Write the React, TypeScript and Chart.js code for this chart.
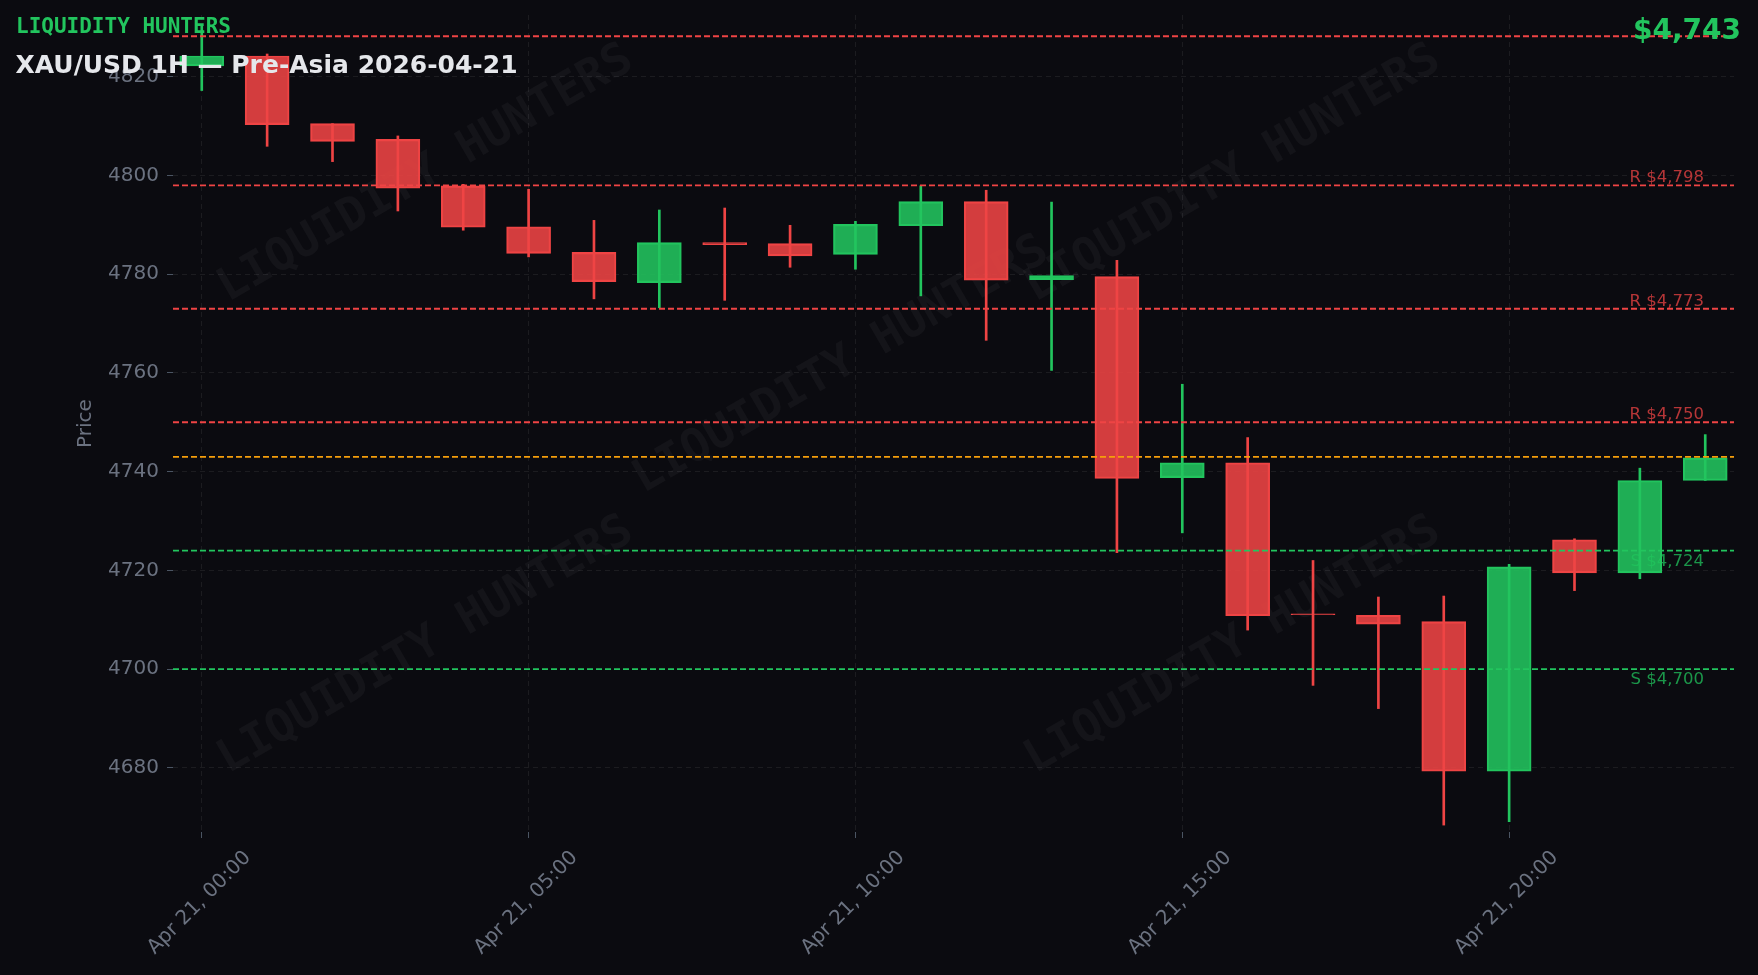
import React, { useEffect, useRef } from "react";
import { Chart, registerables } from "chart.js";

Chart.register(...registerables);

// ---- data ----
const HOURS = [0, 1, 2, 3, 4, 5, 6, 7, 8, 9, 10, 11, 12, 13, 14, 15, 16, 17, 18, 19, 20, 21, 22, 23];
const OPEN = [4822.2, 4824.2, 4810.5, 4807.3, 4797.9, 4789.6, 4784.4, 4778.3, 4786.4, 4786.2, 4784.0, 4789.8, 4794.7, 4778.9, 4779.5, 4738.8, 4741.8, 4711.2, 4710.9, 4709.6, 4679.3, 4726.2, 4719.5, 4738.2];
const HIGH = [4830.5, 4824.6, 4810.5, 4808.0, 4798.2, 4797.2, 4790.9, 4793.0, 4793.4, 4789.9, 4790.7, 4797.9, 4797.0, 4794.6, 4782.8, 4757.7, 4746.9, 4722.0, 4714.6, 4714.8, 4721.2, 4726.4, 4740.7, 4747.5];
const LOW = [4817.2, 4805.9, 4802.8, 4792.8, 4788.9, 4783.5, 4775.0, 4773.2, 4774.7, 4781.4, 4781.0, 4775.6, 4766.6, 4760.5, 4723.6, 4727.6, 4707.9, 4696.7, 4692.0, 4668.4, 4669.1, 4715.9, 4718.3, 4738.2];
const CLOSE = [4824.2, 4810.3, 4806.9, 4797.4, 4789.5, 4784.2, 4778.5, 4786.4, 4786.0, 4783.7, 4790.1, 4794.7, 4778.8, 4779.7, 4738.6, 4741.8, 4710.8, 4711.0, 4709.1, 4679.3, 4720.7, 4719.5, 4738.2, 4742.8];

const RESISTANCE = [4798, 4773, 4750];
const SUPPORT = [4724, 4700];
const UPPER_LEVEL = 4828.2;
const CURRENT_PRICE = 4743;

const X_MIN = -0.44;
const X_MAX = 23.44;
const Y_MIN = 4667.0;
const Y_MAX = 4832.5;
const X_TICK_STEP = 5;
const Y_TICK_STEP = 20;
const DAY_LABEL = "Apr 21";

const BRAND = "LIQUIDITY HUNTERS";
const TITLE = "XAU/USD 1H — Pre-Asia 2026-04-21";
const PRICE_TEXT = "$4,743";

// ---- styles ----
const BG = "#0b0b10";
const RED = "#ef4444";
const GREEN = "#22c55e";
const RED_FILL = "rgba(239,68,68,0.88)";
const GREEN_FILL = "rgba(34,197,94,0.88)";
const ORANGE = "#f59e0b";
const TICK_COLOR = "#6b7280";
const GRID = "rgba(255,255,255,0.07)";
const FONT = "'DejaVu Sans', sans-serif";
const MONO = "'DejaVu Sans Mono', monospace";

const fmtMoney = (v: number) => "$" + v.toLocaleString("en-US");

const watermarkPlugin = {
  id: "watermark",
  beforeDatasetsDraw(chart: any) {
    const { ctx, chartArea } = chart;
    const spots = [
      [0.162, 0.195],
      [0.428, 0.429],
      [0.679, 0.195],
      [0.162, 0.772],
      [0.679, 0.772],
    ];
    ctx.save();
    ctx.beginPath();
    ctx.rect(chartArea.left, chartArea.top, chartArea.right - chartArea.left, chartArea.bottom - chartArea.top);
    ctx.clip();
    ctx.font = `bold 46px ${MONO}`;
    ctx.fillStyle = "rgba(255,255,255,0.04)";
    ctx.textAlign = "center";
    ctx.textBaseline = "middle";
    const w = chartArea.right - chartArea.left;
    const h = chartArea.bottom - chartArea.top;
    for (const [fx, fy] of spots) {
      ctx.save();
      ctx.translate(chartArea.left + fx * w, chartArea.top + fy * h);
      ctx.rotate(-Math.PI / 6);
      ctx.fillText(BRAND, 0, 0);
      ctx.restore();
    }
    ctx.restore();
  },
};

const levelLabelPlugin = {
  id: "levelLabels",
  afterDatasetsDraw(chart: any) {
    const { ctx, chartArea, scales } = chart;
    const y = scales.y;
    const x = chartArea.right - 30;
    ctx.save();
    ctx.font = `16.5px ${FONT}`;
    ctx.textAlign = "right";
    ctx.textBaseline = "alphabetic";
    ctx.fillStyle = "rgba(239,68,68,0.75)";
    for (const r of RESISTANCE) {
      ctx.fillText("R " + fmtMoney(r), x, y.getPixelForValue(r) - 3);
    }
    ctx.fillStyle = "rgba(34,197,94,0.75)";
    for (const s of SUPPORT) {
      ctx.fillText("S " + fmtMoney(s), x, y.getPixelForValue(s) + 15);
    }
    ctx.restore();
  },
};

export default function App() {
  const ref = useRef<HTMLCanvasElement>(null);

  useEffect(() => {
    document.body.style.background = BG;
    document.documentElement.style.background = BG;
    const up = OPEN.map((o, i) => CLOSE[i] >= o);
    const fill = up.map((u) => (u ? GREEN_FILL : RED_FILL));
    const stroke = up.map((u) => (u ? GREEN : RED));

    const level = (v: number, color: string) => ({
      type: "line" as const,
      data: [
        { x: X_MIN, y: v },
        { x: X_MAX, y: v },
      ],
      borderColor: color,
      borderWidth: 1.8,
      borderDash: [6, 3],
      pointRadius: 0,
      fill: false,
      order: -1,
    });

    const datasets: any[] = [
      {
        type: "bar",
        label: "wick",
        data: HOURS.map((h, i) => ({ x: h, y: [LOW[i], HIGH[i]] })),
        backgroundColor: stroke,
        borderWidth: 0,
        barThickness: 2,
        grouped: false,
        order: 2,
      },
      {
        type: "bar",
        label: "body",
        data: HOURS.map((h, i) => ({ x: h, y: [OPEN[i], CLOSE[i]] })),
        backgroundColor: fill,
        borderColor: stroke,
        borderWidth: 1.5,
        borderSkipped: false,
        barThickness: 44,
        grouped: false,
        order: 1,
      },
      level(UPPER_LEVEL, RED),
      ...RESISTANCE.map((r) => level(r, RED)),
      level(CURRENT_PRICE, ORANGE),
      ...SUPPORT.map((s) => level(s, GREEN)),
    ];

    Chart.defaults.font.family = FONT;
    const chart = new Chart(ref.current as HTMLCanvasElement, {
      type: "bar",
      data: { datasets },
      options: {
        animation: false,
        responsive: true,
        maintainAspectRatio: false,
        devicePixelRatio: 1,
        layout: { padding: { top: 7, right: 16, left: 58, bottom: 0 } },
        plugins: { legend: { display: false }, tooltip: { enabled: false } },
        scales: {
          x: {
            type: "linear",
            min: X_MIN,
            max: X_MAX,
            offset: false,
            afterFit: (s: any) => {
              s.height = 135;
              s.paddingLeft = 0;
              s.paddingRight = 0;
            },
            ticks: {
              stepSize: X_TICK_STEP,
              includeBounds: false,
              autoSkip: false,
              minRotation: 45,
              maxRotation: 45,
              labelOffset: 46,
              padding: 8,
              color: TICK_COLOR,
              font: { size: 20 },
              callback: (v: any) => `${DAY_LABEL}, ${String(v).padStart(2, "0")}:00`,
            },
            grid: { color: GRID, tickColor: "#4b5563", tickLength: 6, offset: false },
            border: { display: false, dash: [5, 4] },
          },
          y: {
            type: "linear",
            min: Y_MIN,
            max: Y_MAX,
            afterFit: (s: any) => {
              s.width = 107;
              s.paddingTop = 0;
              s.paddingBottom = 0;
            },
            ticks: {
              stepSize: Y_TICK_STEP,
              includeBounds: false,
              padding: 8,
              color: TICK_COLOR,
              font: { size: 20 },
              callback: (v: any) => String(v),
            },
            title: {
              display: true,
              text: "Price",
              color: TICK_COLOR,
              font: { size: 20 },
              padding: { top: 8, bottom: 8 },
            },
            grid: { color: GRID, tickColor: "#4b5563", tickLength: 6 },
            border: { display: false, dash: [5, 4] },
          },
        },
      } as any,
      plugins: [watermarkPlugin, levelLabelPlugin],
    });
    return () => chart.destroy();
  }, []);

  return (
    <div style={{ position: "relative", width: 1742, height: 959, background: BG }}>
      <canvas ref={ref} />
      <div
        style={{
          position: "absolute",
          left: 8,
          top: 7.5,
          font: `bold 21px ${MONO}`,
          lineHeight: "21px",
          color: GREEN,
          pointerEvents: "none",
          whiteSpace: "nowrap",
        }}
      >
        {BRAND}
      </div>
      <div
        style={{
          position: "absolute",
          left: 7.5,
          top: 43.5,
          font: `bold 25px ${FONT}`,
          lineHeight: "25px",
          color: "#e5e7eb",
          pointerEvents: "none",
          whiteSpace: "nowrap",
        }}
      >
        {TITLE}
      </div>
      <div
        style={{
          position: "absolute",
          right: 9,
          top: 7.8,
          font: `bold 28px ${FONT}`,
          lineHeight: "28px",
          color: GREEN,
          pointerEvents: "none",
          whiteSpace: "nowrap",
        }}
      >
        {PRICE_TEXT}
      </div>
    </div>
  );
}
